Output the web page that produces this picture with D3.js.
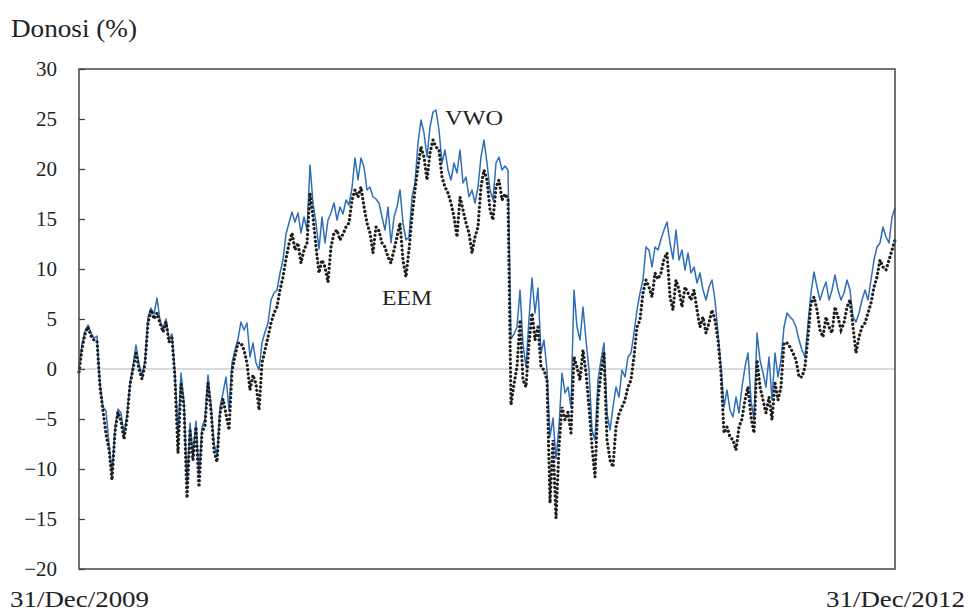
<!DOCTYPE html>
<html>
<head>
<meta charset="utf-8">
<script src="https://cdn.jsdelivr.net/npm/d3@7"></script>
<style>
  html, body { margin: 0; padding: 0; background: #fff; }
  svg { display: block; }
  text { font-family: "Liberation Serif", "Times New Roman", serif; fill: #222; }
</style>
</head>
<body>
<svg id="chart" width="968" height="612"></svg>
<script>
// ---- Data (cumulative returns, %, sampled evenly from 31/Dec/2009 to 31/Dec/2012) ----
const vwo = [
  0.0, 2.5, 3.8, 4.4, 3.6, 3.1, 3.3, -1.5, -3.8, -4.2,
  -7.5, -10.5, -5.8, -4.0, -4.4, -6.5, -4.6, -1.4, 0.3, 2.4,
  0.5, -0.6, 0.8, 5.2, 6.1, 5.5, 7.1, 4.9, 4.0, 5.0,
  3.0, 3.5, -0.4, -6.5, -0.4, -3.2, -11.5, -5.4, -8.5, -5.2,
  -10.5, -5.8, -5.0, -0.6, -3.6, -7.5, -8.6, -3.8, -2.4,
  -0.8, -4.1, 0.6, 1.9, 3.0, 4.7, 3.9, 4.6, 1.2, 2.6,
  0.6, -0.1, 2.6, 3.7, 4.6, 6.9, 7.6, 7.9, 9.6, 10.9,
  13.5, 14.6, 15.7, 14.7, 15.6, 13.6, 15.2, 13.9, 20.4, 16.6,
  14.6, 12.0, 15.2, 12.6, 14.9, 15.6, 16.6, 14.9, 16.2, 15.5,
  16.9, 16.4, 18.1, 21.1, 18.9, 21.1, 20.2, 17.9,
  18.2, 17.2, 17.0, 16.6, 15.2, 13.9, 16.2, 12.6, 15.2, 16.2,
  17.9, 14.6, 12.9, 13.2, 17.2, 18.6, 22.6, 24.9, 23.6, 21.2,
  24.2, 25.7, 25.9, 23.9, 20.6, 21.9, 19.9, 18.9, 20.6, 19.6,
  21.9, 18.6, 19.2, 17.2, 17.9, 16.6, 18.2, 21.2, 22.9, 20.6,
  17.9, 16.9, 20.6, 21.2, 19.9, 20.3, 19.9,
  3.0, 3.5, 4.2, 7.9, 2.5, 0.2, 5.0, 9.1, 5.6, 8.1,
  1.6, 2.9, -0.1, -6.8, -4.9, -9.0, -5.8, -0.4, -2.4, -1.8,
  -3.8, 7.9, 4.2, 2.9, 6.2, 2.9, -0.1, -6.1, -7.1, -1.1,
  0.9, 2.6, -4.4, -6.1, -3.8, -1.8, -2.8, -0.1, -0.8, 1.2,
  1.6, 3.6, 5.9, 7.6, 8.9, 12.2, 11.9, 10.2, 12.2, 11.9,
  13.0, 13.9, 14.7, 12.6, 11.0, 13.9, 10.9, 11.9, 9.9, 11.6,
  9.6, 10.2, 8.6, 9.6, 7.9, 6.9, 8.2, 8.9, 6.9, 3.6,
  0.2, -3.8, -2.1, -4.1, -4.8, -2.8, -4.4, -1.8, 0.2, 1.6,
  -3.1, -5.1, 3.6, 0.9, -0.4, -1.8, 1.2, -3.1, 1.6, -0.8,
  0.9, 4.2, 5.6, 5.2, 4.9, 4.2, 2.9, 1.9,
  1.2, 4.6, 7.6, 9.7, 8.2, 6.9, 7.9, 8.7, 6.9, 7.9,
  9.4, 7.9, 6.9, 7.6, 8.9, 7.9, 5.2, 4.7, 5.6, 6.9,
  7.9, 6.9, 8.9, 10.9, 12.2, 12.6, 14.2, 13.2, 12.6, 15.2,
  16.1
];
const eem = [
  -0.3, 2.0, 3.5, 4.2, 3.3, 2.9, 2.8, -1.8, -4.2, -6.5,
  -8.0, -11.1, -6.3, -4.3, -5.2, -7.0, -5.0, -1.6, 0.0, 1.6,
  0.0, -1.0, 0.5, 4.6, 5.9, 5.0, 5.6, 4.6, 3.7, 4.7,
  2.7, 3.1, -1.0, -8.4, -1.5, -3.8, -12.9, -6.2, -9.1, -5.8,
  -11.8, -6.4, -5.6, -1.4, -4.2, -8.2, -9.3, -4.5, -3.0,
  -4.5, -6.1, -0.2, 1.3, 2.6, 2.6, 1.9, 0.6, -2.1, -0.6,
  -1.5, -4.1, 0.6, 1.9, 3.2, 4.6, 5.6, 6.2, 7.9, 9.2,
  11.0, 12.5, 13.6, 11.9, 12.6, 10.6, 11.9, 12.6, 17.6, 15.2,
  12.2, 9.6, 10.9, 10.2, 8.7, 12.2, 13.6, 13.9, 12.9, 13.5,
  14.2, 14.6, 16.9, 17.9, 17.2, 18.2, 16.2, 14.6,
  13.6, 11.6, 14.2, 13.8, 12.6, 12.2, 11.2, 10.6, 11.9, 13.2,
  14.6, 10.9, 9.2, 11.9, 15.2, 17.9, 20.2, 22.2, 21.2, 18.9,
  21.6, 22.9, 22.2, 21.9, 19.2, 18.2, 17.6, 16.6, 15.2, 13.2,
  17.2, 15.9, 14.6, 13.6, 11.6, 13.2, 14.2, 18.2, 19.9, 18.9,
  15.9, 14.9, 18.2, 18.9, 16.9, 17.5, 17.0,
  -3.6, -1.5, 0.2, 4.9, -1.1, -1.8, 2.5, 5.6, 2.9, 4.2,
  0.2, -0.1, -1.1, -13.4, -7.1, -14.9, -7.8, -3.8, -5.1, -4.3,
  -6.4, 1.2, 0.2, -1.1, 1.9, -0.4, -3.8, -7.8, -10.8, -3.0,
  -0.4, 1.6, -7.1, -9.1, -9.8, -5.8, -4.5, -3.8, -3.1, -1.8,
  -1.1, 1.2, 4.2, 4.9, 7.6, 8.9, 8.2, 7.2, 9.6, 9.0,
  9.6, 11.0, 11.6, 7.2, 5.9, 8.9, 7.9, 6.2, 8.2, 7.6,
  6.9, 7.9, 5.9, 4.2, 5.2, 3.6, 4.6, 5.9, 4.9, 2.9,
  -0.4, -6.4, -5.8, -6.8, -7.1, -8.1, -5.8, -5.0, -3.1, -1.8,
  -4.8, -6.4, 0.9, -1.8, -3.1, -4.4, -2.8, -5.1, -1.4, -3.1,
  -1.8, 2.6, 2.6, 2.2, 1.6, 0.9, -0.8, -0.8,
  0.2, 3.2, 6.6, 7.2, 5.9, 3.9, 3.2, 5.2, 4.2, 3.6,
  6.2, 5.2, 3.9, 4.6, 6.2, 6.9, 4.2, 1.6, 3.2, 4.2,
  4.6, 5.6, 6.6, 8.2, 9.2, 10.9, 10.2, 9.9, 10.9, 11.9,
  12.9
];
const yTicks = [-20, -15, -10, -5, 0, 5, 10, 15, 20, 25, 30];
const xLabels = ["31/Dec/2009", "31/Dec/2012"];
const yTitle = "Donosi (%)";
const seriesNames = ["VWO", "EEM"];
const seriesLabelPos = [[122, 24.4], [101, 6.4]]; // [index, value] anchors of the series labels

// ---- Layout ----
const svg = d3.select("#chart");
const mLeft = 79, mRight = 895, mTop = 69, mBottom = 569;

const x = d3.scaleLinear().domain([0, vwo.length - 1]).range([mLeft, mRight]);
const y = d3.scaleLinear().domain([-20, 30]).range([mBottom, mTop]);

// zero line
svg.append("line")
  .attr("x1", mLeft).attr("x2", mRight)
  .attr("y1", y(0)).attr("y2", y(0))
  .attr("stroke", "#b5b5b5").attr("stroke-width", 1);

// y axis with inward ticks
const yAxis = svg.append("g")
  .attr("transform", `translate(${mLeft},0)`)
  .call(d3.axisLeft(y).tickValues(yTicks).tickSize(-6).tickPadding(22));
yAxis.select(".domain").remove();
yAxis.selectAll(".tick line").attr("stroke", "#444").attr("stroke-width", 1.3);
yAxis.selectAll(".tick text")
  .attr("font-family", "Liberation Serif, serif")
  .attr("font-size", 21).attr("fill", "#333");

// lines
const line = d3.line().x((d, i) => x(i)).y(d => y(d));

svg.append("path")
  .datum(vwo)
  .attr("d", line)
  .attr("fill", "none")
  .attr("stroke", "#2e6eb6")
  .attr("stroke-width", 1.5)
  .attr("stroke-linejoin", "round");

svg.append("path")
  .datum(eem)
  .attr("d", line)
  .attr("fill", "none")
  .attr("stroke", "#1e1e1e")
  .attr("stroke-width", 3.2)
  .attr("stroke-linecap", "round")
  .attr("stroke-dasharray", "0.1 4.2");

// frame
svg.append("rect")
  .attr("x", mLeft).attr("y", mTop)
  .attr("width", mRight - mLeft).attr("height", mBottom - mTop)
  .attr("fill", "none").attr("stroke", "#444").attr("stroke-width", 1.5);

// series labels
svg.append("text")
  .attr("x", x(seriesLabelPos[0][0])).attr("y", y(seriesLabelPos[0][1]))
  .attr("font-size", 22).attr("fill", "#333")
  .attr("textLength", 58).attr("lengthAdjust", "spacingAndGlyphs")
  .text(seriesNames[0]);
svg.append("text")
  .attr("x", x(seriesLabelPos[1][0])).attr("y", y(seriesLabelPos[1][1]))
  .attr("font-size", 22).attr("fill", "#333")
  .attr("textLength", 50).attr("lengthAdjust", "spacingAndGlyphs")
  .text(seriesNames[1]);

// title
svg.append("text")
  .attr("x", 11).attr("y", 37)
  .attr("font-size", 25).attr("fill", "#222")
  .attr("textLength", 126).attr("lengthAdjust", "spacingAndGlyphs")
  .text(yTitle);

// x labels
svg.append("text")
  .attr("x", 10).attr("y", 607)
  .attr("font-size", 23).attr("fill", "#333")
  .attr("textLength", 139).attr("lengthAdjust", "spacingAndGlyphs")
  .text(xLabels[0]);
svg.append("text")
  .attr("x", 965).attr("y", 607)
  .attr("text-anchor", "end")
  .attr("font-size", 23).attr("fill", "#333")
  .attr("textLength", 139).attr("lengthAdjust", "spacingAndGlyphs")
  .text(xLabels[1]);
</script>
</body>
</html>
